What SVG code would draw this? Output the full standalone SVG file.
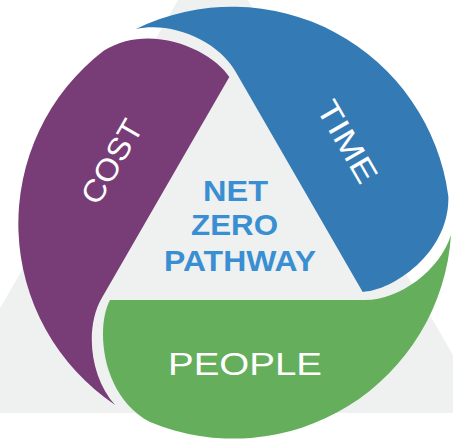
<svg xmlns="http://www.w3.org/2000/svg" xmlns:xlink="http://www.w3.org/1999/xlink" width="453" height="443" viewBox="0 0 453 443">
  <style>
    .lbl { font-family: "Liberation Sans", Arial, sans-serif; fill: #ffffff; font-size: 31px; text-anchor: middle; }
    .core { font-family: "Liberation Sans", Arial, sans-serif; fill: #3a8fd2; font-size: 30px; font-weight: bold; text-anchor: middle; }
  </style>
  <defs>
    <path id="seg" d="M110,300 L365,300 C400,300 440,270 451,235 A218,218 0 0 1 150,422 C100,395 96,326 110,300 Z"/>
  </defs>
  <rect width="453" height="443" fill="#ffffff"/>
  <polygon id="backdrop" points="213,-60.6 486.5,413 -60.5,413" fill="#eff1f1"/>
  <g id="people">
    <use xlink:href="#seg" href="#seg" fill="#64ae5c"/>
    <text class="lbl" x="245" y="375" font-size="32" textLength="154" lengthAdjust="spacingAndGlyphs">PEOPLE</text>
  </g>
  <g id="cost">
    <use xlink:href="#seg" href="#seg" fill="#783d77" transform="rotate(120 234 223)"/>
    <text class="lbl" x="0" y="0" textLength="92" lengthAdjust="spacingAndGlyphs" transform="translate(121 167) rotate(-60)">COST</text>
  </g>
  <g id="time">
    <use xlink:href="#seg" href="#seg" fill="#347bb5" transform="rotate(240 234 223)"/>
    <text class="lbl" x="0" y="0" textLength="90" lengthAdjust="spacingAndGlyphs" transform="translate(338 147) rotate(60)">TIME</text>
  </g>
  <g id="net-zero-pathway">
    <text class="core" x="235.5" y="200.5" textLength="65" lengthAdjust="spacingAndGlyphs">NET</text>
    <text class="core" x="234.5" y="235" textLength="87" lengthAdjust="spacingAndGlyphs">ZERO</text>
    <text class="core" x="240" y="270.5" textLength="152" lengthAdjust="spacingAndGlyphs">PATHWAY</text>
  </g>
</svg>
